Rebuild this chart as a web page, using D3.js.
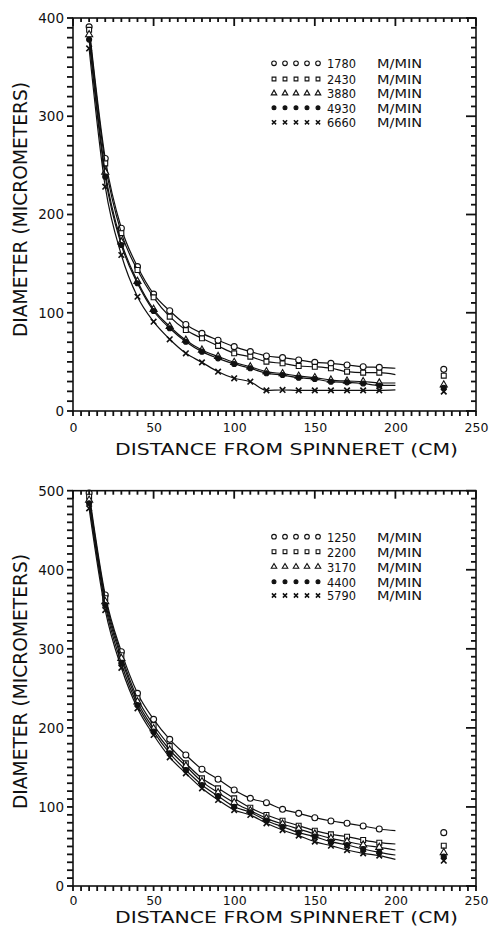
<!DOCTYPE html>
<html lang="en">
<head>
<meta charset="UTF-8" />
<title>diameter vs distance</title>
<script src="https://cdn.jsdelivr.net/npm/d3@7"></script>
<style>
  body { margin: 0; background: #fff; }
  svg { display: block; }
  text { font-family: "DejaVu Sans", sans-serif; fill: #111; }
</style>
</head>
<body>
<svg id="svg"></svg>
<script>
// distances where diameters were measured (cm)
const distances = [10, 20, 30, 40, 50, 60, 70, 80, 90, 100, 110, 120, 130, 140, 150, 160, 170, 180, 190];
const fitEndX = 200;   // fitted curves stop here
const bobbinX = 230;   // the isolated point on the right

// upper panel
const topSpeeds = ["1780", "2430", "3880", "4930", "6660"];
const top1780 = [391, 257, 186, 147, 119, 102, 88, 79, 72, 65.5, 60.4, 56, 54.3, 52, 49.5, 48.5, 46.8, 45, 44.4];
const top2430 = [388, 252, 181, 143.5, 115.7, 96, 82.4, 74, 66.2, 58.7, 55.3, 50.2, 48.5, 45.8, 45, 43.5, 40, 39, 39];
const top3880 = [383, 243, 172, 132, 103.5, 86, 72, 62, 55.5, 49.5, 45, 40, 38, 35.5, 34, 31.5, 30.5, 30, 28.5];
const top4930 = [378, 238.5, 169, 130, 101.8, 84.2, 70.5, 60.4, 53.6, 47.8, 43.5, 38.4, 36.6, 33.9, 32.6, 29.8, 29.2, 28, 26];
const top6660 = [369, 228.3, 158.8, 116.3, 90.9, 73, 58.7, 49.5, 40, 33.3, 29.8, 21, 21.4, 21, 21, 21, 21, 21, 21];
const topFitEnd = [43.5, 37, 28.5, 26, 21.5];
const topBobbin = [42.4, 36, 26.5, 23.7, 19.7];

// lower panel
const bottomSpeeds = ["1250", "2200", "3170", "4400", "5790"];
const bot1250 = [497, 368, 296.4, 243.7, 210.8, 185.5, 165.7, 147.6, 135, 121.4, 110.9, 105.4, 97, 91.9, 86.4, 82.2, 79.3, 75.9, 72.1];
const bot2200 = [492.5, 364, 292, 237.4, 203.6, 177, 155.2, 136.2, 123.6, 110.9, 99, 89.8, 82.6, 76.3, 70, 65.3, 62.4, 58.2, 54.8];
const bot3170 = [488, 359.6, 288, 233, 199, 172, 151.8, 132, 118, 105.4, 95.3, 85.6, 78.4, 72.1, 65.8, 60.3, 56.1, 51.9, 48.9];
const bot4400 = [484, 355.4, 281.7, 229, 195.2, 167.8, 146.7, 127.8, 113.8, 100.3, 93.2, 82.6, 75, 67.5, 62.4, 56.1, 51.9, 46.8, 42.6];
const bot5790 = [477.7, 349, 276, 224.8, 191, 162.8, 142.5, 123.6, 108.8, 96.1, 89.8, 79.3, 70.8, 63.7, 56.1, 51, 45.5, 41.3, 38.4];
const botFitEnd = [70, 53.1, 45.5, 39.2, 33.7];
const botBobbin = [67.5, 51, 42.2, 37.1, 32];

const xTickLabels = [0, 50, 100, 150, 200, 250];
const xMinorStep = 5;
const yMinorStep = 10;

const width = 491, height = 928;
const ink = "#111";

const svg = d3.select("#svg").attr("width", width).attr("height", height);
svg.append("rect").attr("width", width).attr("height", height).attr("fill", "#fff");

const x = d3.scaleLinear().domain([0, 250]).range([73, 476]);

// marker shapes: open circle, open square, open triangle, filled circle, x
const markers = [
  { type: d3.symbolCircle, fill: "#fff", size: 28 },
  { type: d3.symbolSquare, fill: "#fff", size: 24 },
  { type: d3.symbolTriangle, fill: "#fff", size: 22 },
  { type: d3.symbolCircle, fill: ink, size: 20 },
  { type: d3.symbolX, fill: "none", size: 22 }
];

// short tick lines along one frame edge
function comb(g, values, pos, horizontal, len) {
  g.append("g").attr("class", "comb").selectAll("line")
    .data(values)
    .join("line")
    .attr("x1", d => horizontal ? x(d) : pos.x)
    .attr("x2", d => horizontal ? x(d) : pos.x + len(d))
    .attr("y1", d => horizontal ? pos.y : pos.scale(d))
    .attr("y2", d => horizontal ? pos.y + len(d) : pos.scale(d))
    .attr("stroke", ink).attr("stroke-width", 1.8);
}

function drawPanel(p) {
  const y = d3.scaleLinear().domain([0, p.yMax]).range([p.y0, p.y1]);
  const g = svg.append("g");
  const xTicks = d3.range(0, 250 + 1, xMinorStep);
  const yTicks = d3.range(0, p.yMax + 1, yMinorStep);

  // curves and points
  const line = d3.line().x(d => x(d[0])).y(d => y(d[1])).curve(d3.curveMonotoneX);
  p.series.forEach((vals, i) => {
    const pts = distances.map((d, k) => [d, vals[k]]);
    g.append("path")
      .datum(pts.concat([[fitEndX, p.fitEnd[i]]]))
      .attr("d", line)
      .attr("fill", "none").attr("stroke", ink).attr("stroke-width", 1.2);

    const m = markers[i];
    const sym = d3.symbol().type(m.type).size(m.size);
    g.append("g").selectAll("path")
      .data(pts.concat([[bobbinX, p.bobbin[i]]]))
      .join("path")
      .attr("d", sym)
      .attr("transform", d => `translate(${x(d[0])},${y(d[1])})`)
      .attr("fill", m.fill).attr("stroke", ink).attr("stroke-width", i === 4 ? 1.6 : 1.1);
  });

  // frame
  g.append("rect")
    .attr("x", x(0)).attr("y", y(p.yMax))
    .attr("width", x(250) - x(0)).attr("height", y(0) - y(p.yMax))
    .attr("fill", "none").attr("stroke", ink).attr("stroke-width", 1.6);

  // tick combs: bottom outward, top inward, left outward, right inward
  comb(g, xTicks, { y: y(0) }, true, () => 5);
  comb(g, xTicks, { y: y(p.yMax) }, true, d => d % 50 === 0 ? 8 : 4);
  comb(g, yTicks, { x: x(0), scale: y }, false, () => -6);
  comb(g, yTicks, { x: x(250), scale: y }, false, d => d % 100 === 0 ? -10 : -5);

  // tick labels
  g.append("g").attr("transform", `translate(0,${y(0)})`)
    .call(d3.axisBottom(x).tickValues(xTickLabels).tickSize(0).tickPadding(p.xPad).tickFormat(d3.format("d")))
    .call(a => a.select(".domain").remove())
    .selectAll("text").attr("font-size", 12.5).attr("font-family", "DejaVu Sans").attr("fill", ink);
  g.append("g").attr("transform", `translate(${x(0)},0)`)
    .call(d3.axisLeft(y).tickValues(p.yLabels).tickSize(0).tickPadding(9).tickFormat(d3.format("d")))
    .call(a => a.select(".domain").remove())
    .selectAll("text").attr("font-size", 13.5).attr("font-family", "DejaVu Sans").attr("fill", ink);

  // axis titles
  g.append("text")
    .attr("x", 286.5).attr("y", p.xTitleY)
    .attr("text-anchor", "middle")
    .attr("font-size", 16)
    .attr("textLength", 343).attr("lengthAdjust", "spacingAndGlyphs")
    .text("DISTANCE  FROM  SPINNERET  (CM)");
  g.append("text")
    .attr("transform", `translate(27,${p.titleMid}) rotate(-90)`)
    .attr("text-anchor", "middle")
    .attr("font-size", 19)
    .attr("textLength", 255).attr("lengthAdjust", "spacingAndGlyphs")
    .text("DIAMETER  (MICROMETERS)");

  // legend
  p.speeds.forEach((s, i) => {
    const ly = p.legendY[i];
    const m = markers[i];
    const sym = d3.symbol().type(m.type).size(m.size * 0.6);
    g.append("g").selectAll("path")
      .data([274, 285, 296, 307, 318])
      .join("path")
      .attr("d", sym)
      .attr("transform", d => `translate(${d},${ly})`)
      .attr("fill", m.fill).attr("stroke", ink).attr("stroke-width", i === 4 ? 1.5 : 1.1);
    g.append("text").attr("x", 327).attr("y", ly + 4.8)
      .attr("font-size", 13).attr("textLength", 29).attr("lengthAdjust", "spacingAndGlyphs").text(s);
    g.append("text").attr("x", 377).attr("y", ly + 4.8)
      .attr("font-size", 13).attr("textLength", 45).attr("lengthAdjust", "spacingAndGlyphs").text("M/MIN");
  });
}

drawPanel({
  yMax: 400, y0: 411, y1: 18,
  yLabels: [0, 100, 200, 300, 400],
  titleMid: 209.5, xTitleY: 455, xPad: 12,
  speeds: topSpeeds,
  series: [top1780, top2430, top3880, top4930, top6660],
  fitEnd: topFitEnd, bobbin: topBobbin,
  legendY: [63.3, 79, 93.3, 107.7, 122.3]
});

drawPanel({
  yMax: 500, y0: 886, y1: 490.7,
  yLabels: [0, 100, 200, 300, 400, 500],
  titleMid: 681.5, xTitleY: 923, xPad: 10,
  speeds: bottomSpeeds,
  series: [bot1250, bot2200, bot3170, bot4400, bot5790],
  fitEnd: botFitEnd, bobbin: botBobbin,
  legendY: [536.7, 551.7, 566.7, 581.7, 595.5]
});
</script>
</body>
</html>
